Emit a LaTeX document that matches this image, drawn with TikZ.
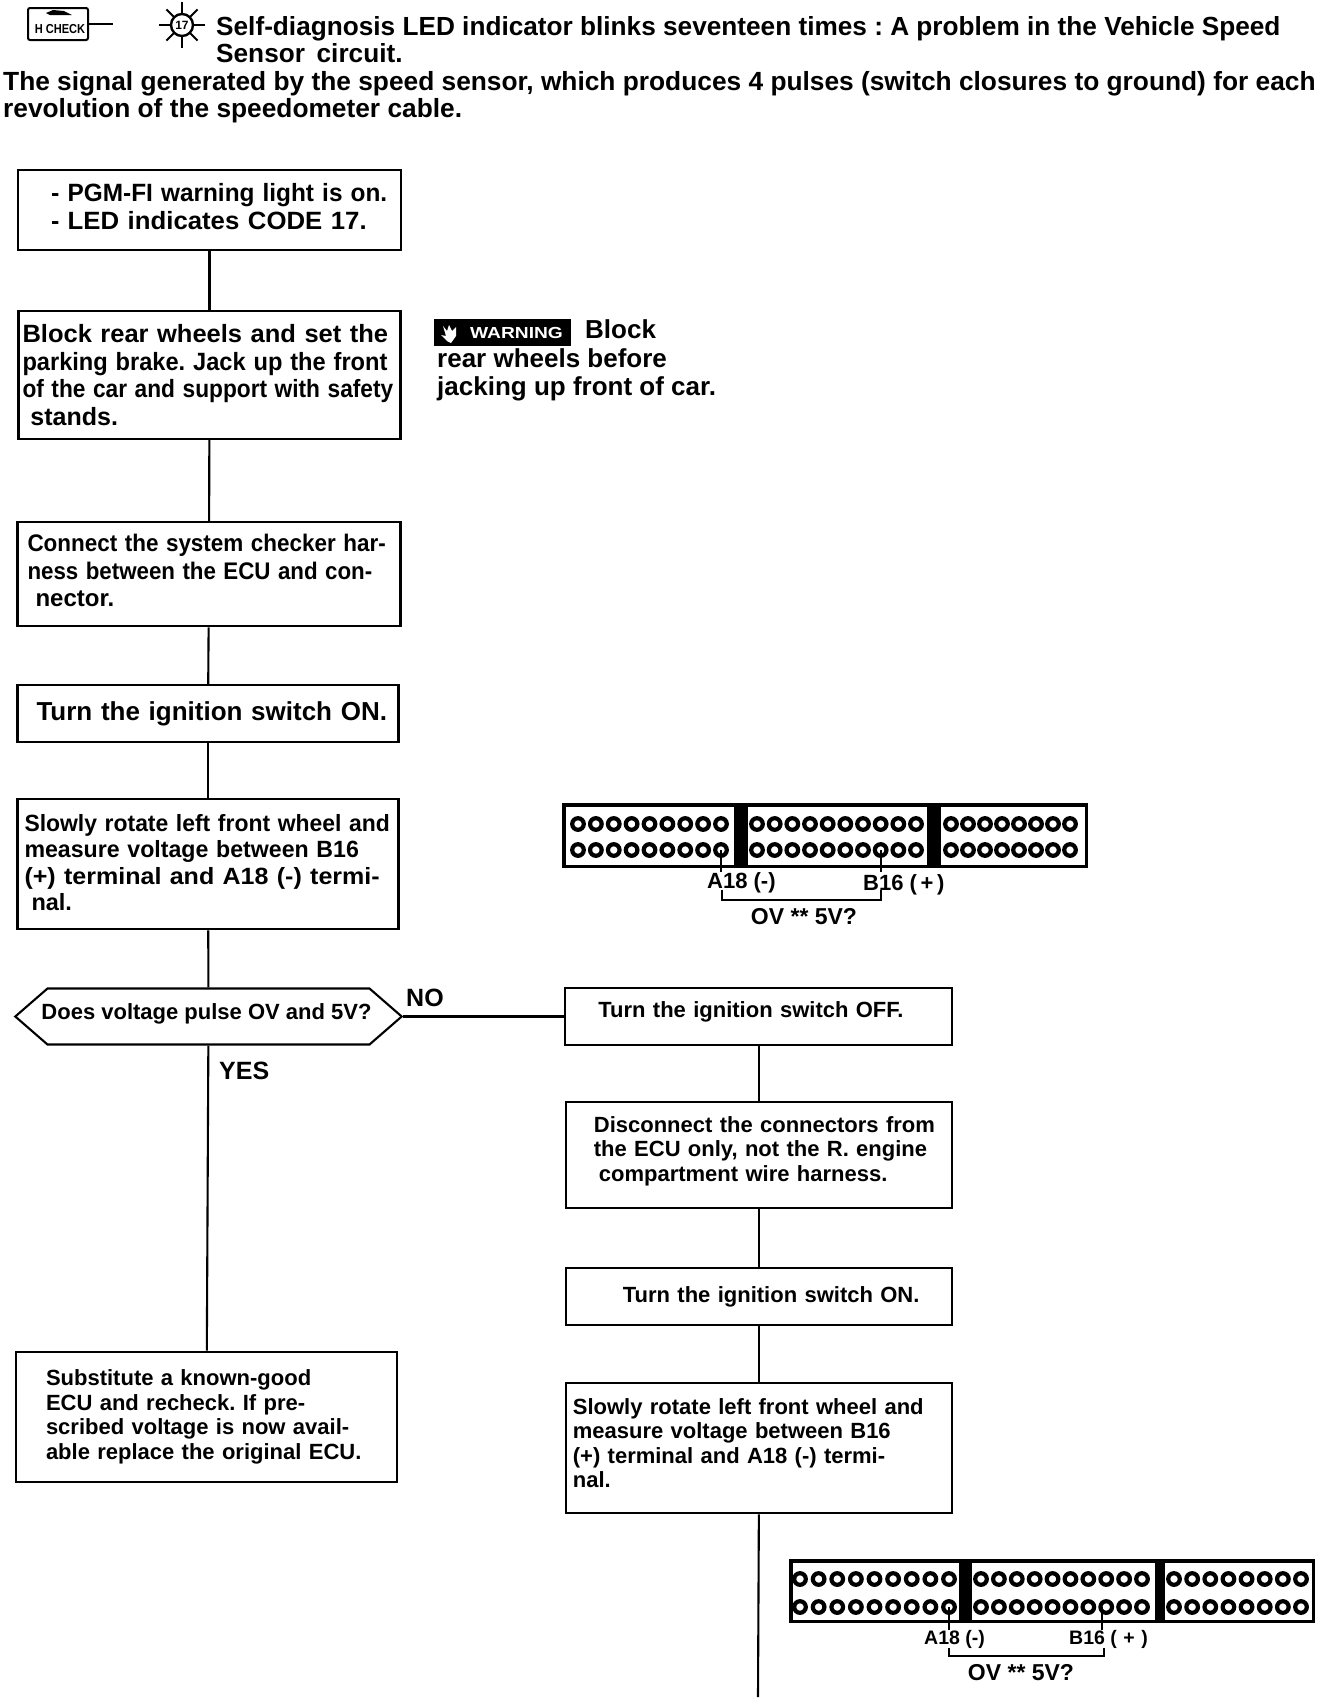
\documentclass[tikz,border=0pt]{standalone}
\usepackage{fontspec}
\setmainfont{Liberation Sans}
\usetikzlibrary{positioning, shapes.symbols}

\newcommand{\headfont}{\fontsize{26.2}{27}\bfseries\selectfont}
\newcommand{\bigfont}{\fontsize{25}{27.5}\bfseries\selectfont}
\newcommand{\smallfont}{\fontsize{22}{24.5}\bfseries\selectfont}
\newcommand{\tinyfont}{\fontsize{19.5}{22}\bfseries\selectfont}
\newcommand{\voltfont}{\fontsize{23}{24}\bfseries\selectfont}
\newcommand{\squeeze}[2]{\scalebox{#1}[1]{#2}}
% extra depth on a last line, so the text sits higher in its box
\newcommand{\lift}[1]{\rule[-#1]{0pt}{0pt}}

% one row of connector holes, from x=#1 to x=#2 at height #3, #4 of them
\newcommand{\holerow}[4]{
  \foreach \i in {1,...,#4}{
    \draw[hole] ({#1+(\i-1)*(#2-#1)/(#4-1)},#3) circle (5.8pt);
  }
}

\begin{document}
\frenchspacing
\begin{tikzpicture}[
  x=1pt, y=-1pt,
  box/.style={rectangle, draw, line width=2.1pt, align=left, inner xsep=4pt, inner ysep=0pt, font=\bigfont},
  rbox/.style={box, minimum width=386pt, text width=378pt, font=\smallfont},
  arr/.style={line width=2.1pt},
  hole/.style={draw, line width=4.2pt, fill=white},
  lead/.style={line width=2pt},
  plain/.style={inner sep=0pt, align=left, anchor=west}
]
  \useasboundingbox (0,0) rectangle (1328,1700);

  % header
  \node[draw, line width=2pt, rounded corners=2pt, minimum width=60pt, minimum height=32pt, inner sep=0pt] (hcheck) at (58,24) {};
  \node[inner sep=0pt, font=\fontsize{13}{13}\bfseries\selectfont] (hchecktxt) at (60,29) {\squeeze{.85}{H CHECK}};
  \fill (46,13) -- (53,10) -- (64,11) -- (72,15) -- (50,15) -- cycle;
  \coordinate (hcheckend) at (113,24);
  \draw[arr] (hcheck.east) -- (hcheckend);

  \node[circle, draw, line width=2.4pt, minimum size=22pt, inner sep=0pt, font=\fontsize{12}{12}\bfseries\selectfont] (sun) at (182,25) {17};
  \foreach \a in {0,90,180,270}
    \draw[arr] (sun) ++(\a:11pt) -- ++(\a:12pt);
  \foreach \a in {45,135,225,315}
    \draw[arr] (sun) ++(\a:11pt) -- ++(\a:11pt);

  \node[plain, font=\headfont] (head) at (216,40) {Self-diagnosis LED indicator blinks seventeen times : A problem in the Vehicle Speed\\Sensor\, circuit.};
  \node[plain, font=\fontsize{26.3}{27}\bfseries\selectfont] (intro) at (3,97) {The signal generated by the speed sensor, which produces 4 pulses (switch closures to ground) for each\\revolution of the speedometer cable.};

  % left column
  \node[box, minimum width=383pt, text width=375pt, minimum height=80pt] (lighton) at (209.5,210)
    {\hspace*{29pt}- \squeeze{.975}{PGM-FI warning light is on.}\\\hspace*{29pt}- \squeeze{1.03}{LED indicates CODE 17.}\lift{7pt}};
  \node[box, minimum width=382pt, text width=374pt, minimum height=128pt, below=59pt of lighton] (block)
    {\squeeze{1.02}{Block rear wheels and set the}\\\squeeze{.945}{parking brake. Jack up the front}\\\squeeze{.908}{of the car and support with safety}\\\hspace*{8pt}stands.};
  \node[box, minimum width=383pt, text width=375pt, minimum height=104pt, below=81pt of block, font=\fontsize{24}{27.5}\bfseries\selectfont, xshift=-0.5pt] (harness)
    {\hspace*{6pt}\squeeze{.936}{Connect the system checker har-}\\\hspace*{6pt}\squeeze{.93}{ness between the ECU and con-}\\\hspace*{14pt}nector.\lift{7pt}};
  \node[box, minimum width=381pt, text width=373pt, minimum height=57pt, below=57pt of harness, xshift=-1pt, font=\fontsize{26}{27.5}\bfseries\selectfont] (ignon)
    {\hspace*{15pt}Turn the ignition switch ON.};
  \node[box, minimum width=381pt, text width=373pt, minimum height=130pt, below=55pt of ignon, font=\fontsize{23.5}{26.5}\bfseries\selectfont] (rotate)
    {\hspace*{3pt}\squeeze{.975}{Slowly rotate left front wheel and}\\\hspace*{3pt}\squeeze{.985}{measure voltage between B16}\\\hspace*{3pt}\squeeze{1.065}{(+) terminal and A18 (-) termi-}\\\hspace*{10pt}nal.\lift{4pt}};
  \node[signal, signal to=west and east, signal pointer angle=82, draw, line width=2.1pt, minimum height=56pt, inner sep=0pt, below=57pt of rotate, xshift=0.5pt, font=\fontsize{22}{24}\bfseries\selectfont] (pulse)
    {\makebox[322pt][c]{\hspace*{-4pt}Does voltage pulse OV and 5V?\lift{9pt}}};
  \node[box, minimum width=381pt, text width=373pt, minimum height=130pt, font=\smallfont, below=305pt of pulse, xshift=-2pt] (subst)
    {\hspace*{26pt}Substitute a known-good\\\hspace*{26pt}ECU and recheck. If pre-\\\hspace*{26pt}scribed voltage is now avail-\\\hspace*{26pt}able replace the original ECU.};

  % right column
  \node[rbox, minimum width=387pt, text width=379pt, minimum height=57pt, right=161pt of pulse] (ignoff)
    {\hspace*{29pt}Turn the ignition switch OFF.\lift{13pt}};
  \node[rbox, minimum height=106pt, below=55pt of ignoff] (discon)
    {\hspace*{24pt}Disconnect the connectors from\\\hspace*{24pt}the ECU only, not the R. engine\\\hspace*{29pt}compartment wire harness.\lift{13pt}};
  \node[rbox, minimum height=57pt, below=58pt of discon] (ignon2)
    {\hspace*{53pt}Turn the ignition switch ON.};
  \node[rbox, minimum height=130pt, below=56pt of ignon2] (rotate2)
    {\hspace*{3pt}Slowly rotate left front wheel and\\\hspace*{3pt}measure voltage between B16\\\hspace*{3pt}(+) terminal and A18 (-) termi-\\\hspace*{3pt}nal.\lift{11pt}};
  \coordinate (flowend) at (758,1697);

  % warning
  \node[fill=black, text=white, minimum width=137pt, minimum height=27pt, inner sep=0pt, font=\fontsize{16}{16}\bfseries\selectfont] (warn) at (502.5,332.5) {\hspace*{28pt}\squeeze{1.2}{WARNING}};
  \fill[white] (443,326) -- (447,331) -- (449,325) -- (452,331) -- (456,327) -- (456,336) -- (451,343) -- (447,341) -- (441,335) -- (446,336) -- cycle;
  \node[plain, font=\fontsize{26}{27.5}\bfseries\selectfont] (warntxt) at (437,360) {\hspace*{148pt}Block\\[2pt]rear wheels before\\jacking up front of car.};

  % flow lines
  \draw[arr] (lighton) -- (block);
  \draw[arr] (block) -- (harness);
  \draw[arr] (harness) -- (ignon);
  \draw[arr] (ignon) -- (rotate);
  \draw[arr] (rotate) -- (pulse);
  \draw[arr] (pulse) -- (subst);
  \draw[arr] (pulse.east) -- (ignoff.west);
  \draw[arr] (ignoff) -- (discon);
  \draw[arr] (discon) -- (ignon2);
  \draw[arr] (ignon2) -- (rotate2);
  \draw[arr] (rotate2.south) -- (flowend);
  \node[plain, font=\bigfont] (nolbl) at (406,998) {NO};
  \node[plain, font=\bigfont] (yeslbl) at (219,1071) {YES};

  % upper connector
  \fill (562,803) rectangle (1088,868);
  \fill[white] (565.5,806.5) rectangle (734,864.5);
  \fill[white] (748,806.5) rectangle (927,864.5);
  \fill[white] (941,806.5) rectangle (1084.5,864.5);
  \holerow{578}{721}{824}{9}
  \holerow{578}{721}{850}{9}
  \holerow{757}{916}{824}{10}
  \holerow{757}{916}{850}{10}
  \holerow{951}{1070}{824}{8}
  \holerow{951}{1070}{850}{8}
  \node[plain, font=\smallfont] (a18) at (707,883) {A18 (-)};
  \node[plain, font=\smallfont] (b16) at (863,885) {B16 (\,+\,)};
  \node[font=\voltfont, inner sep=0pt] (volts) at (804,917) {OV ** 5V?};
  \coordinate (a18pin) at (721,850);
  \coordinate (a18leg) at (721,872);
  \coordinate (b16pin) at (881,850);
  \coordinate (b16leg) at (881,872);
  \coordinate (a18foot) at (722,890);
  \coordinate (b16foot) at (881,890);
  \draw[lead] (a18pin) -- (a18leg);
  \draw[lead] (b16pin) -- (b16leg);
  \draw[lead] (a18foot) -- ++(0,10) -| (b16foot);

  % lower connector
  \fill (789,1559) rectangle (1315,1623);
  \fill[white] (792.5,1562.5) rectangle (959,1619.5);
  \fill[white] (972,1562.5) rectangle (1155,1619.5);
  \fill[white] (1165,1562.5) rectangle (1311.5,1619.5);
  \holerow{800}{949}{1579}{9}
  \holerow{800}{949}{1607}{9}
  \holerow{981}{1142}{1579}{10}
  \holerow{981}{1142}{1607}{10}
  \holerow{1174}{1301}{1579}{8}
  \holerow{1174}{1301}{1607}{8}
  \node[plain, font=\tinyfont] (a18low) at (924,1639) {A18 (-)};
  \node[plain, font=\tinyfont] (b16low) at (1069,1639) {B16 (\,\,+\,\,)};
  \node[font=\voltfont, inner sep=0pt] (voltslow) at (1021,1673) {OV ** 5V?};
  \coordinate (a18pinlow) at (949,1607);
  \coordinate (a18leglow) at (949,1630);
  \coordinate (b16pinlow) at (1102,1607);
  \coordinate (b16leglow) at (1102,1630);
  \coordinate (a18footlow) at (949,1648);
  \coordinate (b16footlow) at (1104,1648);
  \draw[lead] (a18pinlow) -- (a18leglow);
  \draw[lead] (b16pinlow) -- (b16leglow);
  \draw[lead] (a18footlow) -- ++(0,8) -| (b16footlow);
\end{tikzpicture}
\end{document}
